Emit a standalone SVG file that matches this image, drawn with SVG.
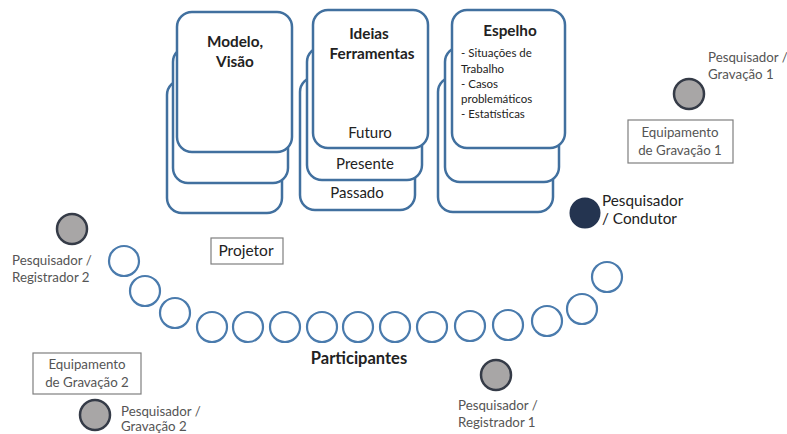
<svg xmlns="http://www.w3.org/2000/svg" width="787" height="434" viewBox="0 0 787 434">
<style>
.card{fill:#fff;stroke:#41709f;stroke-width:2.5}
.part{fill:#fff;stroke:#4a7bad;stroke-width:2.2}
.res{fill:#a8a6a6;stroke:#353b47;stroke-width:2.5}
.lbl{fill:#fff;stroke:#7f7f7f;stroke-width:1.2}
text{font-family:Lato,"Open Sans","Liberation Sans",sans-serif;fill:#222}
.b{font-weight:bold;font-size:15.3px}
.m{font-size:15px}
.s{font-size:11.5px}
.g{font-size:13.3px;fill:#555}
.c{text-anchor:middle}
</style>
<rect width="787" height="434" fill="#fff"/>
<g id="modelo">
<rect class="card" x="167" y="80" width="115" height="133" rx="15"/>
<rect class="card" x="173" y="47" width="115" height="136" rx="15"/>
<rect class="card" x="177" y="12" width="115" height="140" rx="15"/>
<text class="b c" x="235" y="47">Modelo,</text>
<text class="b c" x="235" y="67">Visão</text>
</g>
<g id="ideias">
<rect class="card" x="300" y="77" width="115" height="133" rx="15"/>
<rect class="card" x="307" y="47" width="115" height="133" rx="15"/>
<rect class="card" x="313" y="10" width="115" height="138" rx="15"/>
<text class="b c" x="369" y="39">Ideias</text>
<text class="b c" x="372" y="59">Ferramentas</text>
<text class="m c" x="370" y="138">Futuro</text>
<text class="m c" x="365" y="169">Presente</text>
<text class="m c" x="357" y="198">Passado</text>
</g>
<g id="espelho">
<rect class="card" x="438" y="77" width="115" height="135" rx="15"/>
<rect class="card" x="445" y="47" width="114" height="135" rx="15"/>
<rect class="card" x="452" y="10" width="113" height="138" rx="15"/>
<text class="b c" x="510" y="36">Espelho</text>
<text class="s" x="461" y="57">- Situações de</text>
<text class="s" x="461" y="73">Trabalho</text>
<text class="s" x="461" y="88">- Casos</text>
<text class="s" x="461" y="103">problemáticos</text>
<text class="s" x="461" y="118">- Estatísticas</text>
</g>
<g id="grav1">
<circle class="res" cx="689" cy="94" r="15"/>
<text class="g" x="708" y="62">Pesquisador /</text>
<text class="g" x="708" y="79">Gravação 1</text>
</g>
<g id="equip1">
<rect class="lbl" x="628" y="120" width="105" height="43"/>
<text class="g c" x="680" y="137">Equipamento</text>
<text class="g c" x="680" y="155">de Gravação 1</text>
</g>
<g id="condutor">
<circle cx="585" cy="213" r="15.5" fill="#243450"/>
<text x="602" y="206" fill="#333" style="font-size:15.3px">Pesquisador</text>
<text x="602" y="224" fill="#333" style="font-size:15.3px">/ Condutor</text>
</g>
<g id="reg2">
<circle class="res" cx="72" cy="229" r="15"/>
<text class="g" x="12" y="265">Pesquisador /</text>
<text class="g" x="12" y="282">Registrador 2</text>
</g>
<g id="projetor">
<rect class="lbl" x="211" y="238" width="72" height="26"/>
<text class="c" x="246" y="256" style="font-size:15.5px">Projetor</text>
</g>
<g id="equip2">
<rect class="lbl" x="33" y="353" width="108" height="41"/>
<text class="g c" x="87" y="369">Equipamento</text>
<text class="g c" x="87" y="387">de Gravação 2</text>
</g>
<g id="grav2">
<circle class="res" cx="95" cy="415" r="15"/>
<text class="g" x="121" y="416">Pesquisador /</text>
<text class="g" x="121" y="431">Gravação 2</text>
</g>
<g id="reg1">
<circle class="res" cx="496" cy="375" r="15"/>
<text class="g" x="458" y="410">Pesquisador /</text>
<text class="g" x="458" y="427">Registrador 1</text>
</g>
<g id="participantes">
<circle class="part" cx="124" cy="261" r="15"/>
<circle class="part" cx="145" cy="291" r="15"/>
<circle class="part" cx="175" cy="313" r="15"/>
<circle class="part" cx="212" cy="327" r="15"/>
<circle class="part" cx="248" cy="327" r="15"/>
<circle class="part" cx="285" cy="327" r="15"/>
<circle class="part" cx="322" cy="327" r="15"/>
<circle class="part" cx="358" cy="327" r="15"/>
<circle class="part" cx="395" cy="327" r="15"/>
<circle class="part" cx="432" cy="327" r="15"/>
<circle class="part" cx="470" cy="326" r="15"/>
<circle class="part" cx="508" cy="325" r="15"/>
<circle class="part" cx="547" cy="321" r="15"/>
<circle class="part" cx="582" cy="309" r="15"/>
<circle class="part" cx="607" cy="277" r="15"/>
<text class="c" x="359" y="364" style="font-size:16.5px;font-weight:bold">Participantes</text>
</g>
<g id="connectors"/>
</svg>
